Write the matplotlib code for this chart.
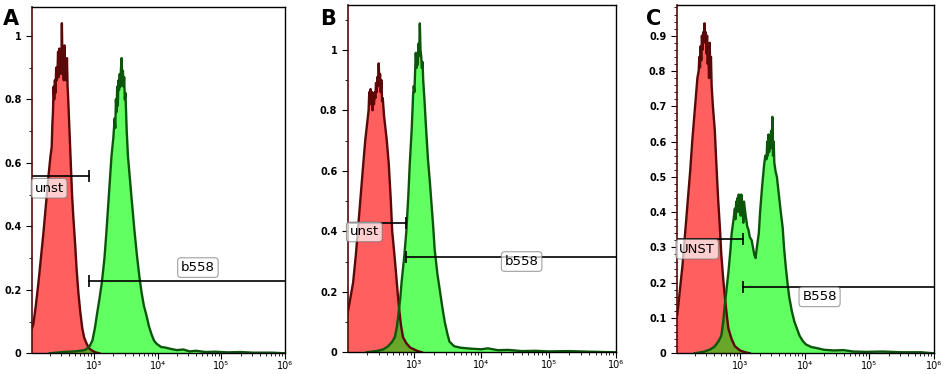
import numpy as np
import matplotlib.pyplot as plt
from matplotlib.ticker import FixedLocator, MultipleLocator, LogLocator, FuncFormatter

# log10 fluorescence positions and normalised counts
a_red_log = [2.00, 2.04, 2.08, 2.12, 2.16, 2.20, 2.24, 2.28, 2.31, 2.33, 2.34, 2.35, 2.36, 2.37,
             2.38, 2.39, 2.40, 2.41, 2.42, 2.43, 2.44, 2.45, 2.46, 2.47, 2.48, 2.49, 2.50, 2.51,
             2.52, 2.53, 2.54, 2.55, 2.56, 2.57, 2.58, 2.59, 2.61, 2.63, 2.65, 2.67, 2.70, 2.72,
             2.75, 2.78, 2.81, 2.84, 2.88, 2.92, 2.97, 3.02, 3.08]
a_red = [0.07, 0.09, 0.15, 0.22, 0.30, 0.38, 0.47, 0.56, 0.62, 0.65, 0.72, 0.76, 0.84, 0.80,
         0.86, 0.82, 0.90, 0.86, 0.88, 0.95, 0.87, 0.96, 0.90, 0.92, 0.88, 1.04, 0.90, 0.93,
         0.86, 0.97, 0.87, 0.91, 0.86, 0.93, 0.84, 0.80, 0.70, 0.60, 0.50, 0.43, 0.34, 0.27,
         0.19, 0.13, 0.08, 0.05, 0.03, 0.015, 0.008, 0.003, 0.0]
a_green_log = [2.30, 2.50, 2.70, 2.85, 2.92, 2.97, 3.01, 3.04, 3.08, 3.12, 3.16, 3.19, 3.23, 3.27,
               3.30, 3.32, 3.33, 3.34, 3.35, 3.36, 3.37, 3.38, 3.39, 3.40, 3.41, 3.42, 3.43, 3.44,
               3.45, 3.46, 3.47, 3.48, 3.49, 3.51, 3.53, 3.56, 3.59, 3.63, 3.67, 3.71, 3.745, 3.78,
               3.82, 3.86, 3.90, 3.94, 3.98, 4.05, 4.12, 4.20, 4.30, 4.40, 4.50, 4.60, 4.75, 4.90,
               5.10, 5.30, 5.50, 5.80, 6.00]
a_green = [0.0, 0.004, 0.006, 0.01, 0.02, 0.04, 0.08, 0.12, 0.17, 0.225, 0.30, 0.38, 0.50, 0.62,
           0.68, 0.74, 0.71, 0.80, 0.76, 0.84, 0.78, 0.86, 0.83, 0.88, 0.84, 0.90, 0.93, 0.86,
           0.89, 0.84, 0.87, 0.80, 0.82, 0.70, 0.62, 0.55, 0.48, 0.39, 0.31, 0.24, 0.19, 0.15,
           0.12, 0.085, 0.06, 0.04, 0.03, 0.02, 0.018, 0.014, 0.01, 0.012, 0.006, 0.008, 0.004,
           0.005, 0.003, 0.004, 0.002, 0.002, 0.0]

b_red_log = [2.00, 2.02, 2.06, 2.10, 2.14, 2.17, 2.21, 2.25, 2.28, 2.31, 2.33, 2.34, 2.35, 2.36,
             2.37, 2.38, 2.39, 2.40, 2.41, 2.42, 2.43, 2.44, 2.45, 2.46, 2.47, 2.48, 2.49, 2.50,
             2.51, 2.52, 2.53, 2.54, 2.56, 2.58, 2.60, 2.63, 2.66, 2.68, 2.71, 2.73, 2.76, 2.78,
             2.81, 2.84, 2.89, 2.95, 3.00, 3.06, 3.12]
b_red = [0.11, 0.13, 0.18, 0.23, 0.32, 0.40, 0.51, 0.62, 0.70, 0.76, 0.80, 0.86, 0.82, 0.87,
         0.84, 0.86, 0.80, 0.85, 0.82, 0.86, 0.84, 0.89, 0.86, 0.91, 0.88, 0.955, 0.89, 0.92,
         0.86, 0.90, 0.83, 0.84, 0.78, 0.74, 0.70, 0.62, 0.50, 0.40, 0.33, 0.28, 0.20, 0.15,
         0.09, 0.05, 0.03, 0.015, 0.01, 0.004, 0.0]
b_green_log = [2.30, 2.47, 2.55, 2.62, 2.68, 2.72, 2.75, 2.77, 2.80, 2.82, 2.86, 2.89, 2.92, 2.94,
               2.97, 2.99, 3.00, 3.01, 3.02, 3.03, 3.04, 3.05, 3.06, 3.07, 3.08, 3.09, 3.10, 3.11,
               3.12, 3.13, 3.14, 3.16, 3.18, 3.21, 3.24, 3.26, 3.29, 3.31, 3.35, 3.39, 3.43, 3.46,
               3.50, 3.53, 3.60, 3.70, 3.85, 4.00, 4.10, 4.25, 4.40, 4.60, 4.80, 5.00, 5.30, 5.60,
               6.00]
b_green = [0.0, 0.005, 0.01, 0.02, 0.035, 0.05, 0.085, 0.12, 0.18, 0.233, 0.32, 0.40, 0.52, 0.62,
           0.74, 0.85, 0.88, 0.86, 0.93, 0.99, 0.94, 0.97, 0.95, 1.02, 0.98, 1.087, 1.0, 0.98,
           0.94, 0.96, 0.90, 0.83, 0.75, 0.64, 0.56, 0.50, 0.41, 0.34, 0.26, 0.20, 0.14, 0.10,
           0.06, 0.035, 0.02, 0.015, 0.012, 0.01, 0.013, 0.007, 0.008, 0.004, 0.005, 0.003, 0.004,
           0.002, 0.0]

c_red_log = [2.00, 2.03, 2.07, 2.11, 2.15, 2.19, 2.23, 2.26, 2.30, 2.34, 2.36, 2.37, 2.38, 2.39,
             2.40, 2.41, 2.42, 2.43, 2.44, 2.45, 2.46, 2.47, 2.48, 2.49, 2.50, 2.51, 2.52, 2.53,
             2.54, 2.55, 2.56, 2.58, 2.61, 2.63, 2.66, 2.69, 2.71, 2.74, 2.77, 2.80, 2.82, 2.87,
             2.92, 3.00, 3.08, 3.15]
c_red = [0.09, 0.11, 0.18, 0.25, 0.34, 0.43, 0.52, 0.60, 0.69, 0.78, 0.80, 0.84, 0.81, 0.87,
         0.83, 0.90, 0.86, 0.91, 0.88, 0.935, 0.89, 0.91, 0.85, 0.90, 0.82, 0.86, 0.78, 0.88,
         0.80, 0.84, 0.76, 0.70, 0.63, 0.55, 0.44, 0.35, 0.28, 0.21, 0.15, 0.10, 0.07, 0.04,
         0.02, 0.008, 0.003, 0.0]
c_green_log = [2.30, 2.45, 2.55, 2.61, 2.67, 2.71, 2.74, 2.76, 2.79, 2.82, 2.85, 2.87, 2.90, 2.92,
               2.93, 2.94, 2.95, 2.96, 2.97, 2.98, 2.99, 3.00, 3.01, 3.02, 3.03, 3.04, 3.05, 3.06,
               3.08, 3.11, 3.13, 3.15, 3.18, 3.20, 3.22, 3.24, 3.26, 3.29, 3.31, 3.34, 3.37, 3.39,
               3.41, 3.42, 3.43, 3.44, 3.45, 3.46, 3.47, 3.48, 3.49, 3.50, 3.51, 3.52, 3.53, 3.55,
               3.57, 3.60, 3.63, 3.66, 3.68, 3.71, 3.74, 3.76, 3.80, 3.84, 3.88, 3.92, 3.97, 4.02,
               4.10, 4.18, 4.30, 4.45, 4.60, 4.75, 4.95, 5.20, 5.50, 5.80, 6.00]
c_green = [0.0, 0.005, 0.012, 0.02, 0.035, 0.05, 0.09, 0.13, 0.18, 0.23, 0.29, 0.34, 0.38, 0.41,
           0.38, 0.43, 0.40, 0.44, 0.41, 0.45, 0.40, 0.42, 0.39, 0.45, 0.40, 0.41, 0.37, 0.43,
           0.40, 0.36, 0.35, 0.33, 0.32, 0.30, 0.28, 0.27, 0.30, 0.34, 0.40, 0.47, 0.53, 0.56,
           0.55, 0.60, 0.56, 0.62, 0.57, 0.60, 0.58, 0.63, 0.59, 0.67, 0.56, 0.60, 0.54, 0.515,
           0.50, 0.45, 0.40, 0.355, 0.30, 0.24, 0.19, 0.16, 0.12, 0.09, 0.07, 0.05, 0.035, 0.025,
           0.018, 0.015, 0.01, 0.008, 0.009, 0.005, 0.004, 0.005, 0.003, 0.003, 0.0]

# gate markers: (y level, log10 split point), label positions (log10 x, y)
letters = ['A', 'B', 'C']
unst_names = ['unst', 'unst', 'UNST']
b558_names = ['b558', 'b558', 'B558']
unst_gate_y = [0.56, 0.428, 0.323]
b558_gate_y = [0.228, 0.316, 0.187]
gate_split = [2.92, 2.89, 3.05]
unst_label = [(2.06, 0.52), (2.05, 0.398), (2.06, 0.295)]
b558_label = [(4.63, 0.27), (4.60, 0.30), (4.23, 0.16)]
y_tops = [1.092, 1.148, 0.987]
sup = {3: '10\u00b3', 4: '10\u2074', 5: '10\u2075', 6: '10\u2076'}

panels = [
    (a_red_log, a_red, a_green_log, a_green),
    (b_red_log, b_red, b_green_log, b_green),
    (c_red_log, c_red, c_green_log, c_green),
]
boxes = [
    [32 / 945, 20.7 / 374, 253 / 945, 346.6 / 374],
    [347.7 / 945, 21.7 / 374, 268.3 / 945, 347.3 / 374],
    [676.7 / 945, 20.7 / 374, 257.3 / 945, 348.3 / 374],
]
letter_x = [3 / 945, 320 / 945, 646 / 945]

RED = '#ff5f5f'
RED_EDGE = '#5a0808'
GREEN = '#62ff62'
GREEN_EDGE = '#0c560c'
OLIVE = '#6aa62a'

fig = plt.figure(figsize=(9.45, 3.74), dpi=100)

for i, (rl, ry, gl, gy) in enumerate(panels):
    ax = fig.add_axes(boxes[i])
    rx = 10 ** np.array(rl)
    gx = 10 ** np.array(gl)
    ax.set_xscale('log')

    ax.fill_between(rx, 0, ry, color=RED, lw=0)
    ax.plot(rx, ry, color=RED_EDGE, lw=1.7)
    gpoly = ax.fill_between(gx, 0, gy, color=GREEN, lw=0)
    over = ax.fill_between(rx, 0, ry, color=OLIVE, lw=0)
    over.set_clip_path(gpoly.get_paths()[0], ax.transData)
    ax.plot(gx, gy, color=GREEN_EDGE, lw=1.7)

    xl = 10 ** 2.02
    split = 10 ** gate_split[i]
    ax.plot([xl, split], [unst_gate_y[i]] * 2, color='black', lw=1.2)
    ax.plot([split], [unst_gate_y[i]], marker='|', ms=8, mew=1.2, color='black')
    ax.plot([split, 1e6], [b558_gate_y[i]] * 2, color='black', lw=1.2)
    ax.plot([split], [b558_gate_y[i]], marker='|', ms=8, mew=1.2, color='black')

    bbox = dict(boxstyle='round,pad=0.25', fc='white', ec='#777777', alpha=0.7, lw=0.8)
    ux, uy = unst_label[i]
    ax.text(10 ** ux, uy, unst_names[i], fontsize=9.5, ha='left', va='center', bbox=bbox)
    bx, by = b558_label[i]
    ax.text(10 ** bx, by, b558_names[i], fontsize=9.5, ha='center', va='center', bbox=bbox)

    ax.set_xlim(xl, 1e6)
    ax.set_ylim(0, y_tops[i])
    ax.xaxis.set_major_locator(FixedLocator([1e3, 1e4, 1e5, 1e6]))
    ax.xaxis.set_minor_locator(LogLocator(base=10, subs=np.arange(2, 10), numticks=20))
    ax.xaxis.set_major_formatter(FuncFormatter(lambda v, p: sup[round(np.log10(v))]))
    if i < 2:
        ax.yaxis.set_major_locator(MultipleLocator(0.2))
        ax.yaxis.set_minor_locator(MultipleLocator(0.1))
    else:
        ax.yaxis.set_major_locator(MultipleLocator(0.1))
        ax.yaxis.set_minor_locator(MultipleLocator(0.02))
    ax.yaxis.set_major_formatter(FuncFormatter(lambda v, p: ('%.1f' % v).rstrip('0').rstrip('.')
                                               if v != 0 else '0'))
    ax.tick_params(axis='both', which='major', direction='out', length=4, width=0.8, labelsize=7)
    ax.tick_params(axis='x', which='major', pad=1.5, labelsize=7)
    ax.tick_params(axis='both', which='minor', direction='out', length=2.5, width=0.6)
    for lab in ax.get_yticklabels():
        lab.set_fontweight('bold')
    ax.spines['left'].set_color(RED_EDGE)
    ax.spines['left'].set_linewidth(1.2)
    for s in ['top', 'right', 'bottom']:
        ax.spines[s].set_linewidth(1.0)

    fig.text(letter_x[i], 0.933, letters[i], fontsize=15, fontweight='bold', ha='left', va='baseline')

fig.savefig('out.png', dpi=100)
